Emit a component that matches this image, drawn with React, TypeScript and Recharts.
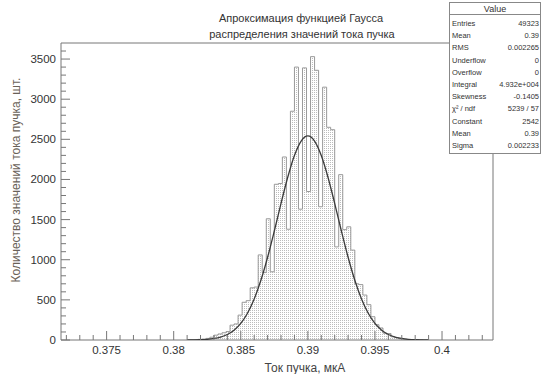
import React from 'react'
import { ComposedChart, Area, Line, XAxis, YAxis, ReferenceArea } from 'recharts'

// histogram: bin counts, bins of equal width starting at binStart
const binStart = 0.3812
const binWidth = 0.0003
const counts = [
  2, 4, 8, 12, 20, 35, 60, 75, 90, 105, 185, 200, 310, 470, 490, 650, 660, 1060, 840, 1510,
  850, 1940, 1950, 2280, 1380, 2850, 3400, 1630, 3390, 1850, 3530, 3360, 1660, 3150, 2650, 2620,
  1160, 2060, 1375, 1410, 1120, 700, 690, 560, 440, 290, 190, 150, 85, 80, 40, 30, 15, 10, 6, 4, 2, 1,
]

// gaussian fit curve
const fitX = [
  0.381, 0.3815, 0.382, 0.3825, 0.383, 0.3835, 0.384, 0.3845, 0.385, 0.3855, 0.386, 0.3865, 0.387,
  0.3875, 0.388, 0.3885, 0.389, 0.3895, 0.39, 0.3905, 0.391, 0.3915, 0.392, 0.3925, 0.393, 0.3935,
  0.394, 0.3945, 0.395, 0.3955, 0.396, 0.3965, 0.397, 0.3975, 0.398, 0.3985, 0.399,
]
const fitY = [
  1, 2, 4, 9, 19, 37, 69, 122, 207, 334, 511, 744, 1031, 1358, 1702, 2028, 2299, 2479, 2542,
  2479, 2299, 2028, 1702, 1358, 1031, 744, 511, 334, 207, 122, 69, 37, 19, 9, 4, 2, 1,
]

const xDomain = [0.3716, 0.4038]
const yDomain = [0, 3700]
const xMajor = [0.375, 0.38, 0.385, 0.39, 0.395, 0.4]
const xMajorLabels = ['0.375', '0.38', '0.385', '0.39', '0.395', '0.4']
const yMajor = [0, 500, 1000, 1500, 2000, 2500, 3000, 3500]
const xTicks = Array.from({ length: 32 }, (_, i) => Math.round((0.372 + i * 0.001) * 1e6) / 1e6)
const yTicks = Array.from({ length: 37 }, (_, i) => i * 100)

const statLabels = ['Entries', 'Mean', 'RMS', 'Underflow', 'Overflow', 'Integral', 'Skewness', 'χ² / ndf', 'Constant', 'Mean', 'Sigma']
const statValues = ['49323', '0.39', '0.002265', '0', '0', '4.932e+004', '-0.1405', '5239 / 57', '2542', '0.39', '0.002233']

const histData = counts.map((c, i) => ({ x: binStart + i * binWidth, count: c }))
histData.push({ x: binStart + counts.length * binWidth, count: 0 })
const fitData = fitX.map((x, i) => ({ x, fit: fitY[i] }))

const FONT = '"Liberation Sans", Arial, sans-serif'
const MARGIN = 6

const XTick = (props: any) => {
  const { x, y, payload } = props
  const idx = xMajor.findIndex((m) => Math.abs(m - payload.value) < 1e-7)
  const axisY = y - MARGIN
  return (
    <g>
      <line x1={x} x2={x} y1={axisY} y2={axisY - (idx >= 0 ? 9 : 5)} stroke="#777" />
      {idx >= 0 && (
        <text x={x} y={axisY + 14} textAnchor="middle" fontSize={11.5} fill="#333" fontFamily={FONT}>
          {xMajorLabels[idx]}
        </text>
      )}
    </g>
  )
}

const YTick = (props: any) => {
  const { x, y, payload } = props
  const major = yMajor.includes(payload.value)
  const axisX = x + MARGIN
  return (
    <g>
      <line x1={axisX} x2={axisX + (major ? 9 : 5)} y1={y} y2={y} stroke="#777" />
      {major && (
        <text x={axisX - 5} y={y + 4} textAnchor="end" fontSize={11.5} fill="#333" fontFamily={FONT}>
          {payload.value}
        </text>
      )}
    </g>
  )
}

export default function App() {
  return (
    <div style={{ position: 'absolute', left: 0, top: 0, width: 543, height: 374, background: '#fff' }}>
      <ComposedChart width={543} height={374} margin={{ top: 43, right: 50, left: 11, bottom: 14 }}>
        <defs>
          <pattern id="dots" width="2" height="2" patternUnits="userSpaceOnUse">
            <rect width="2" height="2" fill="#fff" />
            <rect width="1" height="1" fill="#bcbcbc" />
          </pattern>
        </defs>
        <XAxis
          dataKey="x"
          type="number"
          domain={xDomain}
          ticks={xTicks}
          interval={0}
          allowDataOverflow
          axisLine={false}
          tickLine={false}
          tickSize={0}
          tickMargin={MARGIN}
          height={20}
          tick={<XTick />}
        />
        <YAxis
          type="number"
          domain={yDomain}
          ticks={yTicks}
          interval={0}
          allowDataOverflow
          axisLine={false}
          tickLine={false}
          tickSize={0}
          tickMargin={MARGIN}
          width={50}
          tick={<YTick />}
        />
        <Area
          data={histData}
          dataKey="count"
          type="stepAfter"
          stroke="#9a9a9a"
          strokeWidth={1}
          fill="url(#dots)"
          fillOpacity={1}
          dot={false}
          activeDot={false}
          isAnimationActive={false}
        />
        <Line
          data={fitData}
          dataKey="fit"
          type="monotone"
          stroke="#3a3a3a"
          strokeWidth={1.3}
          dot={false}
          activeDot={false}
          isAnimationActive={false}
        />
        <ReferenceArea
          x1={xDomain[0]}
          x2={xDomain[1]}
          y1={yDomain[0]}
          y2={yDomain[1]}
          fill="none"
          stroke="#777"
          strokeWidth={1}
          ifOverflow="extendDomain"
        />
      </ComposedChart>
      <svg
        width={543}
        height={374}
        style={{ position: 'absolute', left: 0, top: 0, pointerEvents: 'none' }}
        fontFamily={FONT}
      >
        <text x={301} y={22} textAnchor="middle" fontSize={11} fill="#333">
          Апроксимация функцией Гаусса
        </text>
        <text x={302} y={38} textAnchor="middle" fontSize={11} fill="#333">
          распределения значений тока пучка
        </text>
        <text
          transform="translate(20,180) rotate(-90)"
          textAnchor="middle"
          fontSize={12}
          fill="#6a6258"
        >
          Количество значений тока пучка, шт.
        </text>
        <text x={305} y={372} textAnchor="middle" fontSize={12} fill="#444">
          Ток пучка, мкА
        </text>
        <rect x={449.5} y={2.5} width={91} height={151} fill="#fff" stroke="#888" />
        <line x1={449.5} x2={540.5} y1={14.5} y2={14.5} stroke="#888" />
        <text x={495} y={12} textAnchor="middle" fontSize={9} fill="#333">
          Value
        </text>
        {statLabels.map((l, i) => (
          <g key={i}>
            <text x={452} y={26 + i * 12.2} fontSize={7.5} fill="#333">
              {l}
            </text>
            <text x={539} y={26 + i * 12.2} textAnchor="end" fontSize={7.5} fill="#333">
              {statValues[i]}
            </text>
          </g>
        ))}
      </svg>
    </div>
  )
}
